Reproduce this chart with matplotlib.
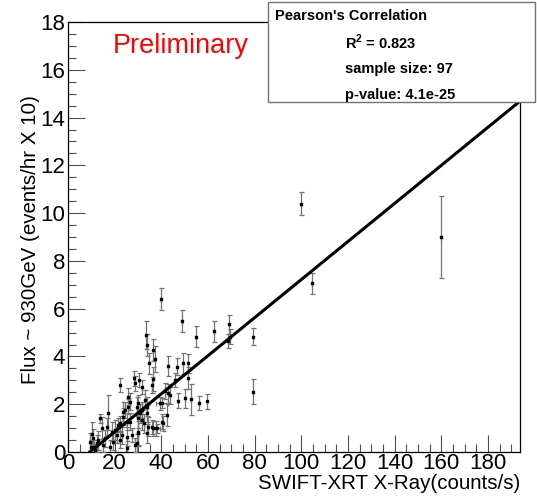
import numpy as np
import matplotlib
matplotlib.use("Agg")
import matplotlib.pyplot as plt
from matplotlib.patches import Rectangle
from matplotlib.ticker import MultipleLocator

# --- data ---
xray = [9.4, 9.7, 10.1, 10.6, 11.1, 11.6, 12.3, 13.0, 13.7, 14.4,
        15.1, 15.9, 16.6, 17.3, 18.0, 18.7, 19.4, 20.3, 20.9, 21.6,
        22.3, 22.3, 22.4, 23.0, 23.4, 23.7, 24.4, 25.1, 25.1, 25.1,
        25.9, 25.9, 26.6, 26.6, 27.3, 28.3, 28.6, 28.7, 29.4, 29.4,
        29.9, 30.1, 30.1, 30.1, 30.4, 30.9, 31.6, 31.6, 31.9, 32.6,
        33.0, 33.4, 33.7, 33.7, 33.7, 33.7, 34.4, 34.8, 35.9, 35.9,
        36.3, 36.6, 36.6, 37.3, 37.7, 38.0, 39.4, 39.7, 40.1, 40.4,
        40.6, 42.3, 42.7, 43.0, 43.7, 45.9, 46.6, 47.0, 49.0, 49.1,
        50.3, 51.3, 51.6, 52.6, 54.9, 56.3, 59.7, 62.7, 68.7, 69.1,
        69.4, 79.2, 79.4, 99.7, 104.4, 160.0, 41.5]
flux = [0.43, 0.20, 0.75, 0.57, 0.22, 0.10, 0.36, 0.50, 1.41, 1.00,
        0.28, 0.57, 1.06, 1.65, 0.22, 0.85, 0.43, 0.92, 0.71, 1.13,
        2.80, 0.50, 1.20, 0.70, 1.48, 1.69, 1.76, 1.27, 0.64, 0.15,
        2.31, 1.90, 1.27, 2.10, 0.71, 3.08, 0.30, 2.87, 1.90, 0.36,
        0.78, 2.04, 1.41, 0.85, 3.01, 1.62, 2.73, 1.34, 1.76, 1.20,
        2.18, 4.90, 4.48, 1.90, 1.62, 0.78, 1.06, 3.71, 2.80, 1.06,
        4.27, 3.05, 0.99, 3.88, 0.99, 0.99, 2.04, 6.40, 1.27, 2.04,
        1.20, 1.55, 3.60, 2.45, 2.38, 3.01, 3.57, 2.15, 5.49, 3.71,
        2.25, 3.71, 3.10, 2.20, 4.83, 2.06, 2.12, 5.06, 4.65, 5.35,
        4.83, 4.83, 2.52, 10.40, 7.06, 9.00, 2.55]
flux_err = [0.35, 0.30, 0.50, 0.40, 0.30, 0.25, 0.35, 0.40, 0.20, 0.45,
            0.30, 0.35, 0.35, 0.73, 0.30, 0.40, 0.35, 0.40, 0.35, 0.30,
            0.30, 0.35, 0.30, 0.35, 0.35, 0.40, 0.35, 0.35, 0.40, 0.30,
            0.35, 0.30, 0.35, 0.35, 0.30, 0.30, 0.30, 0.30, 0.40, 0.40,
            0.50, 0.35, 0.40, 0.60, 0.30, 0.40, 0.30, 0.40, 0.35, 0.40,
            0.40, 0.60, 0.45, 0.40, 0.35, 0.40, 0.40, 0.45, 0.35, 0.30,
            0.45, 0.49, 0.30, 0.55, 0.30, 0.20, 0.28, 0.46, 0.30, 0.20,
            0.30, 0.45, 0.40, 0.40, 0.35, 0.30, 0.35, 0.30, 0.47, 0.45,
            0.40, 0.40, 0.45, 0.65, 0.45, 0.30, 0.30, 0.44, 0.30, 0.40,
            0.30, 0.35, 0.52, 0.47, 0.45, 1.70, 0.35]
xray_err = [0.0] * 97
xray_err[65] = 1.5   # the two points with a visible horizontal bar
xray_err[69] = 2.5

fit_slope = 0.0797
fit_intercept = -0.75

stats_title = "Pearson's Correlation"
stats_lines = [r"R$^{\mathbf{2}}$ = 0.823", "sample size: 97", "p-value: 4.1e-25"]

plt.rcParams.update({
    'font.family': ['Liberation Sans', 'DejaVu Sans'],
    'mathtext.fontset': 'custom',
    'mathtext.bf': 'Liberation Sans:bold',
    'mathtext.rm': 'Liberation Sans',
})

fig = plt.figure(figsize=(5.37, 4.98), dpi=100)
ax = fig.add_axes([68 / 537, 46 / 498, 452 / 537, 430 / 498])

ax.errorbar(xray, flux, yerr=flux_err, xerr=xray_err, fmt='s', ms=1.8,
            mfc='black', mec='black', ecolor='0.45', elinewidth=0.9,
            capsize=1.8, capthick=0.9, zorder=3)

xmax = 193.7
x0 = -fit_intercept / fit_slope
xs = np.array([x0, xmax])
ax.plot(xs, fit_slope * xs + fit_intercept, color='black', lw=2.2, zorder=4)

ax.set_xlim(0, xmax)
ax.set_ylim(0, 18)
ax.xaxis.set_major_locator(MultipleLocator(20))
ax.xaxis.set_minor_locator(MultipleLocator(5))
ax.yaxis.set_major_locator(MultipleLocator(2))
ax.yaxis.set_minor_locator(MultipleLocator(0.5))
ax.tick_params(which='both', direction='in', top=False, right=False,
               labelsize=16, width=0.8, color='0.3')
ax.tick_params(which='major', length=12)
ax.tick_params(which='minor', length=6)
ax.tick_params(axis='x', pad=0.5)
ax.tick_params(axis='y', pad=2)
for sp in ax.spines.values():
    sp.set_linewidth(0.9)

fig.text(520 / 537, 1 - 483 / 498, "SWIFT-XRT X-Ray(counts/s)", fontsize=14.8,
         ha='right', va='center')
fig.text(31 / 537, 1 - 95 / 498, "Flux ~ 930GeV (events/hr X 10)", fontsize=14.8,
         rotation=90, ha='center', va='top')
fig.text(113 / 537, 1 - 46 / 498, "Preliminary", fontsize=19.5, color='red',
         ha='left', va='center')

# stats box
box = Rectangle((268 / 537, 1 - 102 / 498), 267 / 537, 100 / 498,
                transform=fig.transFigure, facecolor='white',
                edgecolor='0.45', lw=1.0, zorder=5)
fig.add_artist(box)
fig.text(275 / 537, 1 - 16 / 498, stats_title, fontsize=10.5, fontweight='bold',
         ha='left', va='center', zorder=6)
for i, line in enumerate(stats_lines):
    fig.text(345 / 537, 1 - (42 + 26.5 * i) / 498, line, fontsize=10.5,
             fontweight='bold', ha='left', va='center', zorder=6)

fig.savefig('out.png', dpi=100)
